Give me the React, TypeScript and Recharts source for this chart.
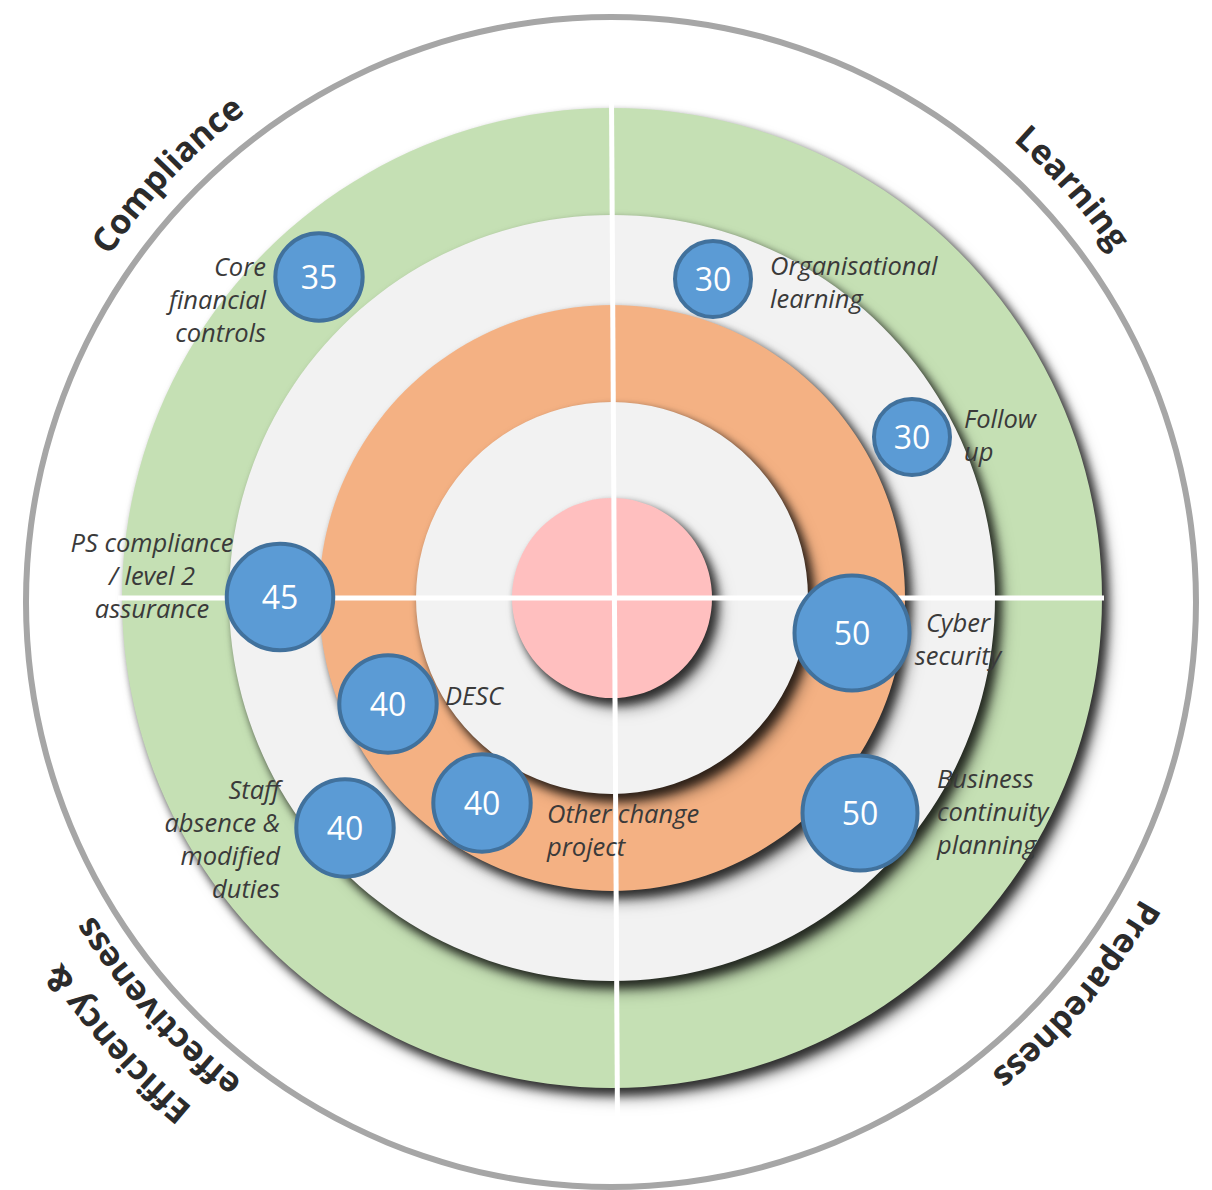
import React from "react";
import {
  Pie,
  PieChart,
  Scatter,
  ScatterChart,
  XAxis,
  YAxis,
  ZAxis,
} from "recharts";

// the four themes, clockwise from top-right
const categories = ["Learning", "Preparedness", "Efficiency & effectiveness", "Compliance"];
const headingLines = [["Learning"], ["Preparedness"], ["Efficiency &", "effectiveness"], ["Compliance"]];
const headingAngles = [41.7, -40.5, -138, 136.4];

// risks: score, position on the target, label
const riskNames = [
  "Core financial controls",
  "Organisational learning",
  "Follow up",
  "PS compliance / level 2 assurance",
  "Cyber security",
  "DESC",
  "Staff absence & modified duties",
  "Other change project",
  "Business continuity planning",
];
const riskScores = [35, 30, 30, 45, 50, 40, 40, 40, 50];
const riskX = [-293, 101, 300, -332, 240, -224, -267, -130, 248];
const riskY = [321, 319, 161, 1, -35, -106, -230, -205, -215];
const riskLabels = [
  ["Core", "financial", "controls"],
  ["Organisational", "learning"],
  ["Follow", "up"],
  ["PS compliance", "/ level 2", "assurance"],
  ["Cyber", "security"],
  ["DESC"],
  ["Staff", "absence &", "modified", "duties"],
  ["Other change", "project"],
  ["Business", "continuity", "planning"],
];

const W = 1212;
const H = 1190;
const CX = 612;
const CY = 598;

const rings = [
  { name: "outer", r: 490, fill: "#c5e0b4" },
  { name: "watch", r: 383, fill: "#f2f2f2" },
  { name: "amber", r: 293, fill: "#f4b183" },
  { name: "inner", r: 196, fill: "#f2f2f2" },
  { name: "core", r: 100, fill: "#ffbfbf" },
];

const labelLayout: Record<string, { dx: number; dy: number; anchor: "start" | "middle" | "end" }> = {
  "Core financial controls": { dx: -53, dy: -1, anchor: "end" },
  "Organisational learning": { dx: 57, dy: -4, anchor: "start" },
  "Follow up": { dx: 52, dy: -9, anchor: "start" },
  "PS compliance / level 2 assurance": { dx: -128, dy: -45, anchor: "middle" },
  "Cyber security": { dx: 106, dy: -1, anchor: "middle" },
  DESC: { dx: 57, dy: 1, anchor: "start" },
  "Staff absence & modified duties": { dx: -65, dy: -29, anchor: "end" },
  "Other change project": { dx: 65, dy: 20, anchor: "start" },
  "Business continuity planning": { dx: 77, dy: -25, anchor: "start" },
};

const vDivider = [
  { x: -0.5, y: 500 },
  { x: 5.5, y: -525 },
];
const hDivider = [
  { x: -494, y: 0 },
  { x: 492, y: 0 },
];

const risks = riskNames.map((name, i) => ({
  name,
  x: riskX[i],
  y: riskY[i],
  z: riskScores[i],
  lines: riskLabels[i],
}));

const LINE_H = 33;

function Bubble(props: any) {
  const { cx, cy, payload, size, width } = props;
  const R = size ? Math.sqrt(size / Math.PI) : width / 2;
  const lay = labelLayout[payload.name];
  const lx = cx + lay.dx;
  return (
    <g>
      <circle cx={cx} cy={cy} r={R - 2} fill="#5b9bd5" stroke="#41719c" strokeWidth={4} />
      <text
        x={cx}
        y={cy + 12}
        textAnchor="middle"
        fill="#fff"
        fontSize={32}
        fontFamily="'Open Sans', sans-serif"
      >
        {payload.z}
      </text>
      <text
        x={lx}
        y={cy + lay.dy}
        textAnchor={lay.anchor}
        fill="#3a3a3a"
        fontSize={25.5}
        fontStyle="italic"
        fontFamily="'Open Sans', sans-serif"
      >
        {payload.lines.map((l: string, i: number) => (
          <tspan key={i} x={lx} dy={i === 0 ? 0 : LINE_H}>
            {l}
          </tspan>
        ))}
      </text>
    </g>
  );
}

function arcPath(r: number, mid: number) {
  const a1 = ((mid + 50) * Math.PI) / 180;
  const a2 = ((mid - 50) * Math.PI) / 180;
  const x1 = CX + r * Math.cos(a1);
  const y1 = CY - r * Math.sin(a1);
  const x2 = CX + r * Math.cos(a2);
  const y2 = CY - r * Math.sin(a2);
  return `M ${x1} ${y1} A ${r} ${r} 0 0 1 ${x2} ${y2}`;
}

function RimHeadings() {
  const items: { id: string; d: string; text: string }[] = [];
  categories.forEach((c, i) => {
    const lines = headingLines[i];
    lines.forEach((t, j) => {
      const r = 608 + (lines.length - 1 - j) * 52;
      items.push({ id: `rim-${i}-${j}`, d: arcPath(r, headingAngles[i]), text: t });
    });
  });
  return (
    <g>
      <defs>
        {items.map((it) => (
          <path key={it.id} id={it.id} d={it.d} fill="none" />
        ))}
      </defs>
      {items.map((it) => (
        <text
          key={it.id}
          fill="#2b2b2b"
          fontSize={34}
          fontWeight={700}
          fontFamily="'Open Sans', sans-serif"
        >
          <textPath href={`#${it.id}`} startOffset="50%" textAnchor="middle">
            {it.text}
          </textPath>
        </text>
      ))}
    </g>
  );
}

const noDot = () => <g />;

export default function App() {
  return (
    <div style={{ position: "absolute", left: 0, top: 0, width: W, height: H, background: "#fff" }}>
      <style>{`.disk { filter: drop-shadow(5px 6px 5px rgba(0,0,0,0.58)); }`}</style>
      <div style={{ position: "absolute", left: 0, top: 0 }}>
        <PieChart width={W} height={H} margin={{ top: 0, right: 0, bottom: 0, left: 0 }}>
          <Pie
            data={[{ value: 1 }]}
            dataKey="value"
            cx={611}
            cy={602}
            innerRadius={582}
            outerRadius={588}
            startAngle={90}
            endAngle={-270}
            fill="#a6a6a6"
            stroke="none"
            isAnimationActive={false}
          />
          {rings.map((ring) => (
            <Pie
              key={ring.name}
              className="disk"
              data={[{ name: ring.name, value: 1 }]}
              dataKey="value"
              cx={CX}
              cy={CY}
              innerRadius={0}
              outerRadius={ring.r}
              startAngle={90}
              endAngle={-270}
              fill={ring.fill}
              stroke="none"
              isAnimationActive={false}
            />
          ))}
        </PieChart>
      </div>
      <div style={{ position: "absolute", left: 0, top: 0 }}>
        <ScatterChart width={W} height={H} margin={{ top: 0, right: 0, bottom: 0, left: 0 }}>
          <XAxis type="number" dataKey="x" domain={[-CX, W - CX]} hide allowDataOverflow />
          <YAxis type="number" dataKey="y" domain={[CY - H, CY]} hide allowDataOverflow />
          <ZAxis type="number" dataKey="z" domain={[30, 50]} range={[Math.PI * 40 * 40, Math.PI * 59.5 * 59.5]} />
          <Scatter
            data={vDivider}
            line={{ stroke: "#fff", strokeWidth: 5 }}
            shape={noDot}
            isAnimationActive={false}
          />
          <Scatter
            data={hDivider}
            line={{ stroke: "#fff", strokeWidth: 5 }}
            shape={noDot}
            isAnimationActive={false}
          />
          <Scatter data={risks} shape={Bubble} isAnimationActive={false} />
          <RimHeadings />
        </ScatterChart>
      </div>
    </div>
  );
}
